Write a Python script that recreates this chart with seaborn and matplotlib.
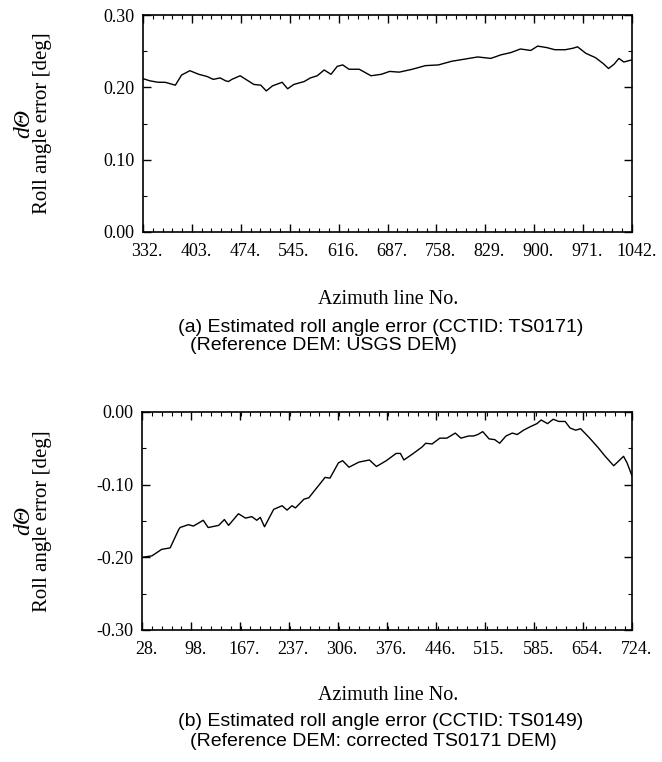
import matplotlib
matplotlib.use("Agg")
import matplotlib.pyplot as plt
import matplotlib.transforms as mtrans
from matplotlib.ticker import AutoMinorLocator
import seaborn as sns
import pandas as pd

# (a) CCTID TS0171, reference DEM: USGS DEM
az_a = [332, 342, 354, 364, 379, 388, 400, 413, 425, 434, 444, 452, 456, 461,
        473, 483, 493, 503, 511, 520, 534, 542, 551, 566, 575, 585, 595, 605,
        614, 622, 631, 646, 663, 678, 690, 704, 723, 742, 761, 780, 799, 818,
        837, 852, 866, 880, 895, 905, 918, 930, 945, 956, 963, 975, 989, 1000,
        1008, 1016, 1023, 1030, 1042]
roll_a = [0.212, 0.209, 0.207, 0.207, 0.203, 0.217, 0.223, 0.218, 0.215, 0.211,
          0.213, 0.209, 0.208, 0.211, 0.216, 0.210, 0.204, 0.203, 0.195, 0.202,
          0.207, 0.198, 0.204, 0.208, 0.213, 0.216, 0.224, 0.218, 0.229, 0.231,
          0.225, 0.225, 0.216, 0.218, 0.222, 0.221, 0.225, 0.230, 0.231, 0.236,
          0.239, 0.242, 0.240, 0.245, 0.248, 0.253, 0.251, 0.257, 0.255, 0.252,
          0.252, 0.254, 0.256, 0.247, 0.241, 0.233, 0.226, 0.232, 0.240, 0.235,
          0.238]
xticks_a = [332, 403, 474, 545, 616, 687, 758, 829, 900, 971, 1042]
yticks_a = [0.00, 0.10, 0.20, 0.30]
ylabels_a = ["0.00", "0.10", "0.20", "0.30"]

# (b) CCTID TS0149, reference DEM: corrected TS0171 DEM
az_b = [28, 35, 42, 56, 68, 80, 82, 94, 101, 115, 122, 137, 145, 151, 165, 175,
        184, 191, 196, 202, 215, 227, 234, 241, 246, 258, 265, 279, 288, 295,
        307, 313, 322, 336, 351, 361, 375, 389, 395, 400, 412, 426, 431, 440,
        451, 461, 473, 481, 492, 499, 505, 512, 521, 529, 536, 545, 554, 561,
        570, 580, 589, 595, 604, 612, 620, 629, 636, 644, 651, 663, 675, 686,
        698, 712, 717, 724]
roll_b = [-0.200, -0.199, -0.198, -0.189, -0.187, -0.162, -0.159, -0.155,
          -0.157, -0.149, -0.159, -0.156, -0.148, -0.156, -0.140, -0.146,
          -0.144, -0.149, -0.145, -0.158, -0.134, -0.129, -0.135, -0.129,
          -0.132, -0.120, -0.118, -0.101, -0.090, -0.091, -0.070, -0.067,
          -0.076, -0.069, -0.066, -0.075, -0.067, -0.057, -0.057, -0.066,
          -0.058, -0.048, -0.043, -0.044, -0.036, -0.036, -0.029, -0.036,
          -0.033, -0.033, -0.031, -0.027, -0.037, -0.038, -0.043, -0.033,
          -0.029, -0.031, -0.025, -0.020, -0.016, -0.011, -0.016, -0.010,
          -0.013, -0.013, -0.022, -0.025, -0.023, -0.035, -0.048, -0.061,
          -0.074, -0.061, -0.070, -0.088]
xticks_b = [28, 98, 167, 237, 306, 376, 446, 515, 585, 654, 724]
yticks_b = [-0.30, -0.20, -0.10, 0.00]
ylabels_b = ["-0.30", "-0.20", "-0.10", "0.00"]

captions = [
    ["(a) Estimated roll angle error (CCTID: TS0171)",
     "(Reference DEM: USGS DEM)"],
    ["(b) Estimated roll angle error (CCTID: TS0149)",
     "(Reference DEM: corrected TS0171 DEM)"],
]

sns.set_style("ticks")
plt.rcParams["font.family"] = ["Liberation Serif", "DejaVu Serif"]
plt.rcParams["text.color"] = "black"

W, H = 662, 762
fig = plt.figure(figsize=(W / 100, H / 100), dpi=100)


def box(l, t, r, b):
    return [l / W, 1 - b / H, (r - l) / W, (b - t) / H]


def panel(ax, x, y, xticks, yticks, ylabels):
    df = pd.DataFrame({"az": x, "roll": y})
    sns.lineplot(data=df, x="az", y="roll", ax=ax, color="black", lw=1.0,
                 estimator=None, sort=False)
    ax.set_xlim(xticks[0], xticks[-1])
    ax.set_ylim(yticks[0], yticks[-1])
    ax.set_xticks(xticks)
    ax.set_xticklabels([f"{t}." for t in xticks])
    ax.set_yticks(yticks)
    ax.set_yticklabels(ylabels)
    ax.xaxis.set_minor_locator(AutoMinorLocator(5))
    ax.yaxis.set_minor_locator(AutoMinorLocator(2))
    ax.tick_params(which="both", direction="in", top=True, right=True,
                   color="black", labelcolor="black", labelsize=13)
    ax.tick_params(which="major", length=6, width=1.0)
    ax.tick_params(axis="x", which="major", pad=8)
    ax.tick_params(axis="y", which="major", pad=6)
    ax.tick_params(which="minor", length=3, width=0.8)
    for s in ax.spines.values():
        s.set_linewidth(1.2)
        s.set_color("black")
    ax.set_xlabel("")
    ax.set_ylabel("")
    off = mtrans.ScaledTranslation(3 / 72, 0, fig.dpi_scale_trans)
    for lab in ax.get_xticklabels():
        lab.set_transform(lab.get_transform() + off)


ax_a = fig.add_axes(box(143, 15, 632, 232))
panel(ax_a, az_a, roll_a, xticks_a, yticks_a, ylabels_a)
ax_b = fig.add_axes(box(142, 412, 632, 630))
panel(ax_b, az_b, roll_b, xticks_b, yticks_b, ylabels_b)

sans = ["Liberation Sans", "DejaVu Sans"]
# y positions (pixels) of: axis label, caption line 1, caption line 2
text_rows = [(300, 327, 346), (695, 721, 742)]
for (top, bot), rows, cap in zip([(15, 232), (412, 630)], text_rows, captions):
    cy = (top + bot) / 2
    fig.text(24 / W, 1 - cy / H, "dΘ", rotation=90, ha="center", va="center",
             fontsize=17, fontstyle="italic")
    fig.text(43 / W, 1 - cy / H, "Roll angle error [deg]", rotation=90,
             ha="center", va="center", fontsize=15)
    fig.text(388 / W, 1 - rows[0] / H, "Azimuth line No.", ha="center",
             va="center", fontsize=14.5)
    fig.text(178 / W, 1 - rows[1] / H, cap[0], ha="left", va="center",
             fontsize=14, family=sans)
    fig.text(190 / W, 1 - rows[2] / H, cap[1], ha="left", va="center",
             fontsize=14, family=sans)

fig.savefig("out.png", dpi=100, facecolor="white")
